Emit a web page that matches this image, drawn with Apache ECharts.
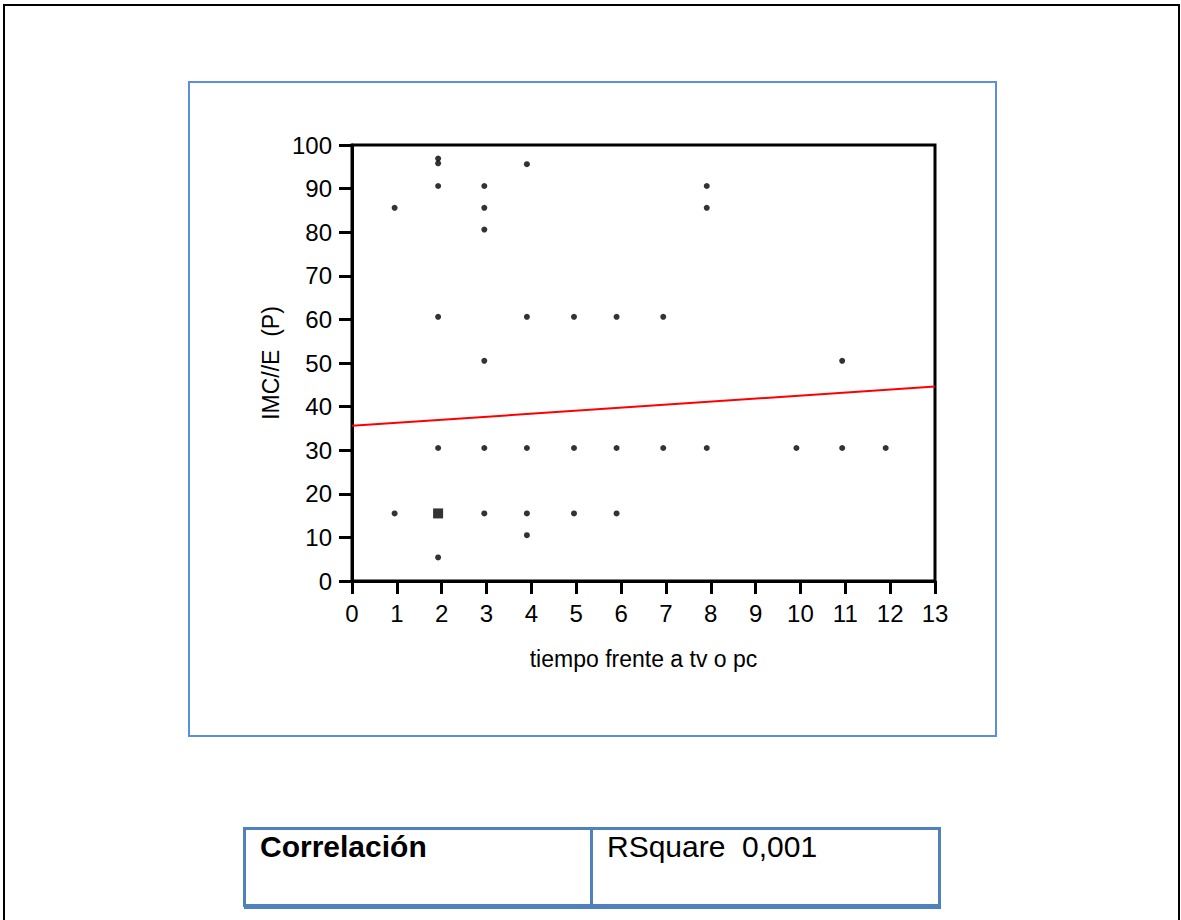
<!DOCTYPE html>
<html>
<head>
<meta charset="utf-8">
<script src="https://cdn.jsdelivr.net/npm/echarts@6/dist/echarts.min.js"></script>
<style>
  html, body { margin: 0; padding: 0; background: #fff; }
  #chart { width: 1181px; height: 920px; }
</style>
</head>
<body>
<div id="chart"></div>
<script>
// scatter points (tiempo frente a tv o pc vs IMC/E percentil)
const pointX = [
  0.95, 0.95,
  1.92, 1.92, 1.92, 1.92, 1.92, 1.92,
  2.95, 2.95, 2.95, 2.95, 2.95, 2.95,
  3.9, 3.9, 3.9, 3.9, 3.9,
  4.95, 4.95, 4.95,
  5.9, 5.9, 5.9,
  6.94, 6.94,
  7.91, 7.91, 7.91,
  9.91,
  10.93, 10.93,
  11.9
]
const pointY = [
  85.6, 15.5,
  96.9, 95.8, 90.6, 60.6, 30.5, 5.4,
  90.6, 85.6, 80.6, 50.5, 30.5, 15.5,
  95.6, 60.6, 30.5, 15.5, 10.5,
  60.6, 30.5, 15.5,
  60.6, 30.5, 15.5,
  60.6, 30.5,
  90.6, 85.6, 30.5,
  30.5,
  50.5, 30.5,
  30.5
]
// overlapping points drawn as a bigger square
const stackX = [1.92]
const stackY = [15.5]
// linear fit
const fitX = [0, 13]
const fitY = [35.6, 44.6]

const xTicks = { min: 0, max: 13, step: 1 }
const yTicks = { min: 0, max: 100, step: 10 }

const chart = echarts.init(document.getElementById('chart'), null, { renderer: 'svg' })

const font = 'Liberation Sans, Arial, sans-serif'

chart.setOption({
  animation: false,
  backgroundColor: '#fff',
  grid: {
    left: 352,
    right: 246,
    top: 145,
    bottom: 339,
    show: true,
    borderColor: '#000',
    borderWidth: 3,
    backgroundColor: 'transparent'
  },
  xAxis: {
    type: 'value',
    min: xTicks.min,
    max: xTicks.max,
    interval: xTicks.step,
    name: 'tiempo frente a tv o pc',
    nameLocation: 'middle',
    nameGap: 66,
    nameTextStyle: { fontFamily: font, fontSize: 23, color: '#000' },
    axisLine: { lineStyle: { color: '#000', width: 3 } },
    axisTick: { length: 13, lineStyle: { color: '#000', width: 3 } },
    axisLabel: { fontFamily: font, fontSize: 24, color: '#000', margin: 20 },
    splitLine: { show: false }
  },
  yAxis: {
    type: 'value',
    min: yTicks.min,
    max: yTicks.max,
    interval: yTicks.step,
    name: 'IMC//E  (P)',
    nameLocation: 'middle',
    nameGap: 70,
    nameTextStyle: { fontFamily: font, fontSize: 23, color: '#000' },
    axisLine: { lineStyle: { color: '#000', width: 3 } },
    axisTick: { length: 13, lineStyle: { color: '#000', width: 3 } },
    axisLabel: { fontFamily: font, fontSize: 24, color: '#000', margin: 20 },
    splitLine: { show: false }
  },
  series: [
    {
      type: 'line',
      data: fitX.map((x, i) => [x, fitY[i]]),
      symbol: 'none',
      lineStyle: { color: '#ff0000', width: 2 },
      z: 3
    },
    {
      type: 'scatter',
      data: pointX.map((x, i) => [x, pointY[i]]),
      symbol: 'circle',
      symbolSize: 6,
      itemStyle: { color: '#000' },
      z: 4
    },
    {
      type: 'scatter',
      data: stackX.map((x, i) => [x, stackY[i]]),
      symbol: 'rect',
      symbolSize: 10,
      itemStyle: { color: '#000' },
      z: 4
    }
  ],
  graphic: [
    // page frame
    {
      type: 'rect',
      shape: { x: 4, y: 5, width: 1175, height: 940 },
      style: { fill: 'none', stroke: '#000', lineWidth: 2 },
      silent: true
    },
    // chart box
    {
      type: 'rect',
      shape: { x: 189, y: 82, width: 807, height: 654 },
      style: { fill: 'none', stroke: '#5b8fd9', lineWidth: 2 },
      silent: true
    },
    // correlation table
    {
      type: 'rect',
      shape: { x: 244.5, y: 828.5, width: 695, height: 77 },
      style: { fill: 'none', stroke: '#4f81bd', lineWidth: 3 },
      silent: true
    },
    {
      type: 'line',
      shape: { x1: 244, y1: 906.5, x2: 941, y2: 906.5 },
      style: { stroke: '#4f81bd', lineWidth: 5 },
      silent: true
    },
    {
      type: 'line',
      shape: { x1: 591.5, y1: 828, x2: 591.5, y2: 906 },
      style: { stroke: '#4f81bd', lineWidth: 3 },
      silent: true
    },
    {
      type: 'text',
      left: 260,
      top: 831,
      style: { text: 'Correlación', fontFamily: font, fontSize: 30, fontWeight: 'bold', fill: '#000' },
      silent: true
    },
    {
      type: 'text',
      left: 607,
      top: 831,
      style: { text: 'RSquare  0,001', fontFamily: font, fontSize: 30, fill: '#000' },
      silent: true
    }
  ]
})
</script>
</body>
</html>
